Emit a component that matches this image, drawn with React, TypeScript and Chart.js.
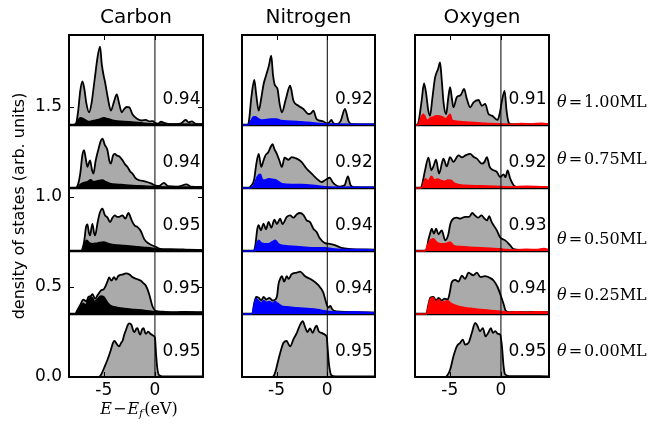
import React, { useEffect, useRef } from 'react';
import { Chart, registerables } from 'chart.js';
Chart.register(...registerables);

type Pt = [number, number];

// ---------- axes / labels ----------
const X_MIN = -8.4;
const X_MAX = 4.7;
const Y_MAX = 1.9;
const offsets = [0, 0.35, 0.7, 1.05, 1.4];
const xTickValues = [-5, 0];
const yTickValues = [0, 0.5, 1.0, 1.5];
const columnTitles = ['Carbon', 'Nitrogen', 'Oxygen'];
const coverageLabels = ['0.00', '0.25', '0.50', '0.75', '1.00'];
const thetaLabelY = [0.139, 0.45, 0.761, 1.206, 1.522];
const carbonNumbers = ['0.95', '0.95', '0.95', '0.94', '0.94'];
const nitrogenNumbers = ['0.95', '0.94', '0.94', '0.92', '0.92'];
const oxygenNumbers = ['0.95', '0.94', '0.93', '0.92', '0.91'];

// ---------- Carbon ----------
const cTot000: Pt[] = [[-8.4,0],[-5.5,0],[-5.36,0.005],[-5.2,0.02],[-4.97,0.05],[-4.64,0.096],[-4.31,0.15],[-4.1,0.19],[-3.95,0.2],[-3.75,0.185],[-3.5,0.17],[-3.3,0.19],[-3.17,0.2],[-3.0,0.235],[-2.84,0.26],[-2.65,0.29],[-2.52,0.298],[-2.3,0.29],[-2.1,0.255],[-2.0,0.25],[-1.8,0.27],[-1.7,0.272],[-1.55,0.245],[-1.44,0.235],[-1.25,0.265],[-1.11,0.272],[-0.95,0.245],[-0.88,0.24],[-0.65,0.252],[-0.45,0.24],[-0.3,0.235],[-0.1,0.228],[0,0.22],[0.12,0.12],[0.23,0.05],[0.4,0.01],[0.7,0.004],[2,0.004],[4.7,0.003]];
const cTot025: Pt[] = [[-8.4,0],[-7.8,0],[-7.6,0.02],[-7.3,0.05],[-7.0,0.08],[-6.7,0.07],[-6.5,0.095],[-6.27,0.1],[-6.1,0.11],[-5.85,0.085],[-5.6,0.105],[-5.29,0.13],[-4.96,0.14],[-4.64,0.18],[-4.48,0.203],[-4.25,0.185],[-4.0,0.205],[-3.8,0.19],[-3.6,0.21],[-3.4,0.217],[-3.1,0.22],[-2.84,0.226],[-2.48,0.22],[-2.2,0.205],[-1.84,0.196],[-1.37,0.185],[-1.1,0.17],[-0.88,0.157],[-0.56,0.11],[-0.26,0.046],[0,0.02],[0.3,0.015],[1,0.012],[2,0.01],[3,0.012],[4.7,0.01]];
const cTot050: Pt[] = [[-8.4,0],[-7.3,0],[-7.1,0.01],[-6.9,0.06],[-6.75,0.13],[-6.6,0.148],[-6.45,0.1],[-6.34,0.087],[-6.2,0.13],[-6.11,0.15],[-5.95,0.1],[-5.85,0.087],[-5.6,0.16],[-5.4,0.21],[-5.13,0.235],[-4.9,0.2],[-4.64,0.186],[-4.38,0.16],[-4.15,0.185],[-3.92,0.198],[-3.7,0.19],[-3.5,0.19],[-3.17,0.198],[-2.9,0.18],[-2.58,0.211],[-2.4,0.19],[-2.19,0.16],[-1.95,0.14],[-1.7,0.133],[-1.37,0.11],[-1.05,0.066],[-0.56,0.04],[0,0.025],[0.5,0.012],[1.5,0.01],[3,0.008],[4.7,0.005]];
const cTot075: Pt[] = [[-8.4,0],[-7.8,0],[-7.58,0.01],[-7.3,0.08],[-7.1,0.18],[-6.93,0.21],[-6.75,0.16],[-6.6,0.117],[-6.45,0.14],[-6.34,0.154],[-6.15,0.1],[-6.01,0.08],[-5.8,0.15],[-5.5,0.22],[-5.3,0.26],[-5.13,0.274],[-4.9,0.24],[-4.64,0.21],[-4.45,0.15],[-4.31,0.135],[-4.1,0.18],[-3.92,0.19],[-3.7,0.18],[-3.5,0.176],[-3.17,0.154],[-2.9,0.13],[-2.68,0.117],[-2.4,0.09],[-2.19,0.08],[-1.9,0.055],[-1.54,0.043],[-1.2,0.04],[-0.88,0.035],[-0.39,0.026],[0,0.015],[0.4,0.012],[0.88,0.028],[1.3,0.01],[2.2,0.008],[3.1,0.02],[3.5,0.008],[4.7,0.006]];
const cTot100: Pt[] = [[-8.4,0],[-8.0,0],[-7.7,0.01],[-7.5,0.08],[-7.3,0.19],[-7.09,0.242],[-6.9,0.2],[-6.7,0.12],[-6.44,0.07],[-6.2,0.12],[-5.9,0.25],[-5.6,0.38],[-5.36,0.435],[-5.2,0.34],[-5.0,0.27],[-4.9,0.246],[-4.6,0.15],[-4.31,0.08],[-4.0,0.13],[-3.73,0.17],[-3.5,0.12],[-3.24,0.07],[-3.0,0.09],[-2.75,0.1],[-2.5,0.098],[-2.2,0.06],[-1.7,0.033],[-1.3,0.025],[-0.9,0.028],[-0.5,0.02],[-0.2,0.022],[0,0.012],[0.3,0.008],[0.6,0.018],[0.9,0.012],[1.5,0.005],[2.5,0.008],[3.0,0.028],[3.3,0.015],[3.6,0.02],[4.0,0.006],[4.7,0.004]];
const cPar025: Pt[] = [[-8.4,0],[-7.7,0],[-7.5,0.02],[-7.2,0.045],[-7.0,0.06],[-6.8,0.05],[-6.5,0.08],[-6.2,0.095],[-5.9,0.07],[-5.6,0.085],[-5.3,0.1],[-5.0,0.095],[-4.7,0.07],[-4.4,0.05],[-4.0,0.04],[-3.5,0.035],[-3.0,0.03],[-2.0,0.025],[-1.0,0.02],[0,0.012],[1,0.008],[2,0.008],[3,0.01],[4.7,0.008]];
const cPar050: Pt[] = [[-8.4,0],[-7.1,0],[-6.9,0.04],[-6.66,0.06],[-6.4,0.045],[-6.1,0.04],[-5.6,0.045],[-5.0,0.05],[-4.5,0.04],[-4.0,0.035],[-3.0,0.03],[-2.0,0.025],[-1.0,0.02],[-0.5,0.018],[0,0.012],[1,0.006],[2.5,0.005],[4.7,0.004]];
const cPar075: Pt[] = [[-8.4,0],[-7.6,0],[-7.3,0.02],[-7.0,0.03],[-6.6,0.035],[-6.28,0.046],[-6.0,0.035],[-5.6,0.04],[-5.13,0.044],[-4.8,0.035],[-4.4,0.025],[-3.5,0.02],[-2.5,0.015],[-1.5,0.012],[0,0.008],[1,0.005],[4.7,0.004]];
const cPar100: Pt[] = [[-8.4,0],[-7.8,0],[-7.6,0.02],[-7.3,0.04],[-7.0,0.035],[-6.5,0.02],[-6.0,0.025],[-5.5,0.03],[-5.0,0.04],[-4.6,0.035],[-4.0,0.025],[-3.0,0.02],[-2.0,0.015],[-1.0,0.01],[0,0.006],[4.7,0.004]];

// ---------- Nitrogen ----------
const nTot000: Pt[] = [[-8.4,0],[-5.5,0],[-5.29,0.005],[-5.1,0.03],[-4.97,0.06],[-4.64,0.133],[-4.31,0.19],[-3.99,0.2],[-3.8,0.18],[-3.66,0.17],[-3.33,0.21],[-3.0,0.245],[-2.68,0.29],[-2.42,0.31],[-2.2,0.28],[-1.95,0.25],[-1.7,0.27],[-1.44,0.245],[-1.2,0.275],[-1.05,0.285],[-0.85,0.255],[-0.56,0.245],[-0.23,0.235],[-0.05,0.22],[0.05,0.15],[0.15,0.08],[0.25,0.04],[0.4,0.01],[0.8,0.004],[4.7,0.003]];
const nTot025: Pt[] = [[-8.4,0],[-7.4,0],[-7.2,0.06],[-7.0,0.095],[-6.76,0.09],[-6.5,0.075],[-6.27,0.095],[-6.0,0.08],[-5.7,0.09],[-5.4,0.075],[-5.13,0.08],[-4.95,0.1],[-4.8,0.167],[-4.6,0.2],[-4.47,0.21],[-4.25,0.18],[-3.99,0.21],[-3.8,0.195],[-3.53,0.22],[-3.0,0.23],[-2.68,0.235],[-2.19,0.21],[-1.54,0.19],[-0.88,0.16],[-0.4,0.12],[-0.07,0.056],[0.1,0.035],[0.3,0.045],[0.5,0.025],[0.9,0.015],[2,0.012],[3,0.01],[4.7,0.008]];
const nTot050: Pt[] = [[-8.4,0],[-7.3,0],[-7.09,0.03],[-6.9,0.12],[-6.76,0.143],[-6.55,0.115],[-6.27,0.152],[-6.05,0.12],[-5.78,0.161],[-5.52,0.13],[-5.2,0.174],[-4.97,0.15],[-4.64,0.18],[-4.42,0.15],[-3.99,0.189],[-3.66,0.198],[-3.33,0.185],[-3.0,0.204],[-2.68,0.211],[-2.35,0.2],[-2.03,0.17],[-1.7,0.16],[-1.37,0.124],[-1.05,0.105],[-0.72,0.069],[-0.23,0.044],[0.25,0.04],[0.74,0.033],[1.4,0.018],[2.1,0.012],[4.7,0.008]];
const nTot075: Pt[] = [[-8.4,0],[-7.7,0],[-7.55,0.01],[-7.22,0.043],[-7.0,0.13],[-6.76,0.19],[-6.5,0.117],[-6.3,0.15],[-6.1,0.18],[-5.8,0.2],[-5.6,0.225],[-5.39,0.243],[-5.2,0.215],[-4.97,0.19],[-4.7,0.15],[-4.47,0.117],[-4.21,0.168],[-3.82,0.157],[-3.5,0.172],[-3.0,0.163],[-2.52,0.144],[-2.03,0.107],[-1.54,0.08],[-1.05,0.052],[-0.56,0.033],[-0.16,0.046],[0.25,0.057],[0.5,0.035],[0.74,0.02],[1.2,0.008],[1.7,0.015],[2.03,0.065],[2.3,0.015],[2.6,0.005],[4.7,0.004]];
const nTot100: Pt[] = [[-8.4,0],[-7.9,0],[-7.75,0.01],[-7.48,0.153],[-7.19,0.25],[-7.0,0.17],[-6.76,0.08],[-6.5,0.15],[-6.27,0.228],[-6.0,0.28],[-5.75,0.33],[-5.52,0.385],[-5.35,0.28],[-5.2,0.228],[-5.0,0.21],[-4.9,0.2],[-4.7,0.12],[-4.47,0.07],[-4.1,0.14],[-3.66,0.218],[-3.33,0.135],[-2.85,0.107],[-2.35,0.089],[-1.86,0.061],[-1.6,0.065],[-1.37,0.08],[-1.05,0.033],[-0.4,0.02],[0,0.008],[0.2,0.015],[0.4,0.028],[0.6,0.01],[0.9,0.005],[1.3,0.02],[1.74,0.089],[2.1,0.02],[2.4,0.005],[4.7,0.004]];
const nPar025: Pt[] = [[-8.4,0],[-7.4,0],[-7.2,0.05],[-7.0,0.085],[-6.8,0.075],[-6.5,0.06],[-6.27,0.075],[-6.0,0.065],[-5.7,0.07],[-5.4,0.06],[-5.13,0.07],[-4.9,0.06],[-4.5,0.045],[-4.0,0.04],[-3.0,0.035],[-2.0,0.03],[-1.0,0.025],[0,0.015],[0.5,0.012],[1.5,0.01],[2.5,0.012],[3.5,0.01],[4.7,0.008]];
const nPar050: Pt[] = [[-8.4,0],[-7.2,0],[-7.0,0.03],[-6.76,0.06],[-6.5,0.045],[-6.2,0.04],[-5.8,0.04],[-5.45,0.05],[-5.13,0.06],[-4.8,0.04],[-4.2,0.03],[-3.0,0.025],[-1.5,0.018],[-0.23,0.018],[0.5,0.012],[1.5,0.008],[3,0.008],[4.7,0.006]];
const nPar075: Pt[] = [[-8.4,0],[-7.5,0],[-7.2,0.02],[-6.92,0.06],[-6.6,0.076],[-6.35,0.045],[-6.1,0.045],[-5.78,0.052],[-5.4,0.048],[-5.1,0.046],[-4.8,0.035],[-4.47,0.024],[-3.5,0.02],[-2.5,0.02],[-1.0,0.012],[0,0.006],[4.7,0.004]];
const nPar100: Pt[] = [[-8.4,0],[-7.8,0],[-7.5,0.025],[-7.3,0.045],[-7.09,0.046],[-6.8,0.035],[-6.5,0.028],[-6.0,0.03],[-5.5,0.033],[-5.0,0.033],[-4.5,0.025],[-4.0,0.022],[-3.0,0.02],[-2.0,0.015],[-1.0,0.01],[0,0.006],[4.7,0.004]];

// ---------- Oxygen ----------
const oTot000: Pt[] = [[-8.4,0],[-5.5,0],[-5.29,0.005],[-4.97,0.04],[-4.64,0.115],[-4.31,0.17],[-3.99,0.19],[-3.72,0.207],[-3.5,0.18],[-3.17,0.19],[-2.85,0.244],[-2.52,0.3],[-2.3,0.285],[-2.05,0.254],[-1.77,0.272],[-1.5,0.226],[-1.25,0.245],[-0.98,0.272],[-0.78,0.245],[-0.55,0.255],[-0.3,0.24],[-0.07,0.235],[0.1,0.17],[0.26,0.06],[0.4,0.015],[0.8,0.005],[4.7,0.004]];
const oTot025: Pt[] = [[-8.4,0],[-7.3,0],[-7.1,0.05],[-6.9,0.09],[-6.6,0.095],[-6.35,0.075],[-6.1,0.09],[-5.8,0.075],[-5.5,0.085],[-5.2,0.08],[-5.0,0.12],[-4.81,0.176],[-4.47,0.19],[-4.15,0.18],[-3.82,0.213],[-3.5,0.195],[-3.17,0.23],[-2.7,0.215],[-2.35,0.23],[-2.0,0.205],[-1.55,0.21],[-1.05,0.2],[-0.7,0.185],[-0.33,0.15],[0.0,0.1],[0.26,0.055],[0.45,0.02],[0.8,0.01],[1.5,0.012],[2.5,0.01],[3.5,0.012],[4.7,0.01]];
const oTot050: Pt[] = [[-8.4,0],[-7.5,0],[-7.26,0.01],[-7.1,0.06],[-6.93,0.096],[-6.76,0.124],[-6.55,0.096],[-6.34,0.124],[-6.1,0.093],[-5.78,0.115],[-5.45,0.059],[-5.15,0.09],[-4.95,0.15],[-4.81,0.17],[-4.31,0.185],[-4.0,0.18],[-3.5,0.19],[-3.1,0.19],[-2.8,0.211],[-2.55,0.198],[-2.25,0.185],[-1.9,0.198],[-1.6,0.18],[-1.35,0.17],[-1.15,0.193],[-0.9,0.16],[-0.4,0.115],[-0.1,0.078],[0.1,0.068],[0.42,0.059],[0.91,0.031],[1.24,0.01],[2,0.006],[4.7,0.005]];
const oTot075: Pt[] = [[-8.4,0],[-7.9,0],[-7.75,0.01],[-7.42,0.098],[-7.09,0.169],[-6.8,0.098],[-6.6,0.12],[-6.34,0.157],[-6.05,0.08],[-5.62,0.163],[-5.3,0.12],[-4.97,0.172],[-4.65,0.145],[-4.15,0.181],[-3.8,0.17],[-3.5,0.18],[-3.01,0.19],[-2.65,0.172],[-2.35,0.163],[-1.86,0.135],[-1.6,0.145],[-1.37,0.172],[-1.1,0.117],[-0.72,0.098],[-0.4,0.09],[-0.07,0.061],[0.26,0.076],[0.45,0.06],[0.65,0.098],[0.91,0.052],[1.24,0.015],[1.6,0.005],[4.7,0.004]];
const oTot100: Pt[] = [[-8.4,0],[-8.2,0],[-8.08,0.01],[-7.75,0.135],[-7.52,0.231],[-7.3,0.17],[-7.1,0.08],[-6.93,0.052],[-6.7,0.15],[-6.45,0.26],[-6.34,0.283],[-6.15,0.31],[-5.95,0.348],[-5.8,0.26],[-5.6,0.12],[-5.36,0.06],[-5.15,0.15],[-4.97,0.21],[-4.8,0.15],[-4.64,0.098],[-4.31,0.155],[-3.95,0.165],[-3.6,0.2],[-3.33,0.144],[-3.0,0.098],[-2.68,0.126],[-2.19,0.139],[-1.86,0.107],[-1.54,0.117],[-1.21,0.061],[-0.88,0.052],[-0.33,0.028],[-0.13,0.061],[0.1,0.135],[0.36,0.19],[0.55,0.08],[0.75,0.015],[1.0,0.003],[4.7,0.003]];
const oPar025: Pt[] = [[-8.4,0],[-7.3,0],[-7.1,0.04],[-6.9,0.085],[-6.6,0.09],[-6.4,0.065],[-6.1,0.08],[-5.8,0.065],[-5.5,0.07],[-5.2,0.074],[-4.9,0.06],[-4.5,0.05],[-4.0,0.04],[-3.0,0.032],[-2.0,0.025],[-1.0,0.02],[0,0.015],[0.8,0.01],[1.5,0.012],[2.5,0.01],[3.5,0.012],[4.7,0.01]];
const oPar050: Pt[] = [[-8.4,0],[-7.4,0],[-7.2,0.03],[-6.93,0.059],[-6.6,0.068],[-6.3,0.05],[-5.8,0.04],[-5.2,0.045],[-4.97,0.05],[-4.6,0.03],[-4.0,0.025],[-2.5,0.02],[-1.0,0.015],[0,0.012],[0.5,0.008],[1.5,0.006],[2.5,0.01],[3.5,0.008],[4.2,0.014],[4.7,0.008]];
const oPar075: Pt[] = [[-8.4,0],[-7.8,0],[-7.6,0.02],[-7.4,0.052],[-7.1,0.04],[-6.8,0.065],[-6.5,0.045],[-6.2,0.05],[-5.9,0.043],[-5.5,0.038],[-5.2,0.045],[-4.9,0.043],[-4.5,0.025],[-3.5,0.015],[-2,0.012],[0,0.008],[1,0.006],[2.5,0.01],[4.7,0.006]];
const oPar100: Pt[] = [[-8.4,0],[-8.1,0],[-7.9,0.03],[-7.6,0.06],[-7.45,0.05],[-7.2,0.025],[-6.9,0.04],[-6.6,0.045],[-6.34,0.052],[-6.0,0.05],[-5.7,0.045],[-5.4,0.035],[-5.15,0.05],[-4.97,0.06],[-4.75,0.025],[-4.0,0.02],[-3.0,0.015],[-1.5,0.01],[0,0.005],[1,0.004],[2,0.008],[3,0.006],[4,0.01],[4.7,0.006]];

interface ColumnSpec {
  title: string;
  totals: Pt[][];
  partials: Pt[][];
  numbers: string[];
  color: string;
  padLeft: number;
  padRight: number;
  isFirst: boolean;
  isLast: boolean;
}

const columns: ColumnSpec[] = [
  { title: columnTitles[0], totals: [cTot000, cTot025, cTot050, cTot075, cTot100], partials: [cPar025, cPar050, cPar075, cPar100], numbers: carbonNumbers, color: '#000000', padLeft: 0, padRight: 445, isFirst: true, isLast: false },
  { title: columnTitles[1], totals: [nTot000, nTot025, nTot050, nTot075, nTot100], partials: [nPar025, nPar050, nPar075, nPar100], numbers: nitrogenNumbers, color: '#0000ff', padLeft: 242, padRight: 273, isFirst: false, isLast: false },
  { title: columnTitles[2], totals: [oTot000, oTot025, oTot050, oTot075, oTot100], partials: [oPar025, oPar050, oPar075, oPar100], numbers: oxygenNumbers, color: '#ff0000', padLeft: 415, padRight: 99, isFirst: false, isLast: true },
];

type Run = { t: string; font: string; dy?: number; gap?: number };
function drawRuns(ctx: CanvasRenderingContext2D, runs: Run[], x: number, y: number, center: boolean) {
  let total = 0;
  runs.forEach((r) => { ctx.font = r.font; total += ctx.measureText(r.t).width + (r.gap || 0); });
  let cx = center ? x - total / 2 : x;
  runs.forEach((r) => {
    ctx.font = r.font;
    ctx.fillText(r.t, cx, y + (r.dy || 0));
    cx += ctx.measureText(r.t).width + (r.gap || 0);
  });
}

function buildConfig(col: ColumnSpec): any {
  const datasets: any[] = [];
  col.totals.forEach((pts, i) => {
    datasets.push({
      data: pts.map(([x, y]) => ({ x, y: offsets[i] + y })),
      borderColor: '#000000', borderWidth: 1.8, backgroundColor: '#aaaaaa',
      fill: { value: offsets[i] }, pointRadius: 0, cubicInterpolationMode: 'monotone', order: 4,
    });
  });
  offsets.slice(1).forEach((o) => {
    datasets.push({
      data: [{ x: X_MIN, y: o }, { x: X_MAX, y: o }],
      borderColor: '#000000', borderWidth: 2.5, pointRadius: 0, fill: false, order: 3,
    });
  });
  col.partials.forEach((pts, j) => {
    const i = j + 1;
    datasets.push({
      data: pts.map(([x, y]) => ({ x, y: offsets[i] + y })),
      borderColor: col.color, borderWidth: 1.5, backgroundColor: col.color,
      fill: { value: offsets[i] }, pointRadius: 0, cubicInterpolationMode: 'monotone', order: 2,
    });
  });
  datasets.push({
    data: [{ x: 0, y: 0 }, { x: 0, y: Y_MAX }],
    borderColor: '#000000', borderWidth: 1, pointRadius: 0, fill: false, order: 1,
  });

  const decor = {
    id: 'decor',
    afterDatasetsDraw(chart: any) {
      const { ctx, chartArea: a, scales } = chart;
      const xs = scales.x, ys = scales.y;
      ctx.save();
      ctx.fillStyle = '#000';
      ctx.textBaseline = 'middle';
      ctx.textAlign = 'left';
      ctx.font = '17px "DejaVu Sans"';
      col.numbers.forEach((t, i) => {
        ctx.fillText(t, xs.getPixelForValue(0.75), ys.getPixelForValue(offsets[i] + 0.14));
      });
      ctx.strokeStyle = '#000';
      ctx.lineWidth = 2;
      ctx.strokeRect(a.left, a.top, a.right - a.left, a.bottom - a.top);
      ctx.lineWidth = 1;
      ctx.beginPath();
      xTickValues.forEach((v) => {
        const px = Math.round(xs.getPixelForValue(v)) + 0.5;
        ctx.moveTo(px, a.bottom); ctx.lineTo(px, a.bottom - 5);
        ctx.moveTo(px, a.top); ctx.lineTo(px, a.top + 5);
      });
      if (col.isFirst) {
        yTickValues.forEach((v) => {
          const py = Math.round(ys.getPixelForValue(v)) + 0.5;
          ctx.moveTo(a.left, py); ctx.lineTo(a.left + 5, py);
          ctx.moveTo(a.right, py); ctx.lineTo(a.right - 5, py);
        });
      }
      ctx.stroke();
      if (col.isFirst) {
        const it = 'italic 16px "DejaVu Serif"';
        const rm = '16px "DejaVu Serif"';
        drawRuns(ctx, [
          { t: 'E', font: it, gap: 1 },
          { t: '\u2212', font: rm, gap: 1 },
          { t: 'E', font: it },
          { t: 'f', font: 'italic 11px "DejaVu Serif"', dy: 4, gap: 1 },
          { t: '(eV)', font: rm },
        ], (a.left + a.right) / 2 + 3, 410, true);
      }
      if (col.isLast) {
        coverageLabels.forEach((c, i) => {
          drawRuns(ctx, [
            { t: '\u03b8', font: 'italic 16px "DejaVu Serif"', gap: 2 },
            { t: '=', font: '16px "DejaVu Serif"', gap: 2 },
            { t: c + 'ML', font: '16px "DejaVu Serif"' },
          ], a.right + 8, ys.getPixelForValue(thetaLabelY[i]), false);
        });
      }
      ctx.restore();
    },
  };

  return {
    type: 'line',
    data: { datasets },
    plugins: [decor],
    options: {
      animation: false,
      responsive: false,
      events: [],
      layout: { padding: { left: col.padLeft, right: col.padRight, top: 0, bottom: 0 } },
      plugins: {
        legend: { display: false },
        tooltip: { enabled: false },
        title: {
          display: true, text: col.title, fullSize: false, color: '#000',
          font: { family: 'DejaVu Sans', size: 20, weight: 'normal' },
          padding: { top: 6, bottom: 5 },
        },
      },
      scales: {
        x: {
          type: 'linear', min: X_MIN, max: X_MAX,
          grid: { display: false, drawTicks: false },
          border: { display: false },
          afterBuildTicks: (s: any) => { s.ticks = xTickValues.map((v) => ({ value: v })); },
          afterFit: (s: any) => { s.height = 52; },
          ticks: { color: '#000', font: { family: 'DejaVu Sans', size: 17 }, padding: 3, maxRotation: 0, callback: (v: any) => String(v) },
        },
        y: {
          type: 'linear', min: 0, max: Y_MAX,
          display: col.isFirst,
          grid: { display: false, drawTicks: false },
          border: { display: false },
          afterBuildTicks: (s: any) => { s.ticks = yTickValues.map((v) => ({ value: v })); },
          afterFit: (s: any) => { s.width = col.isFirst ? 69 : 0; },
          ticks: { color: '#000', font: { family: 'DejaVu Sans', size: 17 }, padding: 7, callback: (v: any) => Number(v).toFixed(1) },
          title: {
            display: true, text: 'density of states (arb. units)', color: '#000',
            font: { family: 'DejaVu Sans', size: 16 }, padding: { top: 10, bottom: 0 },
          },
        },
      },
    },
  };
}

export default function App() {
  const r0 = useRef<HTMLCanvasElement>(null);
  const r1 = useRef<HTMLCanvasElement>(null);
  const r2 = useRef<HTMLCanvasElement>(null);
  useEffect(() => {
    const refs = [r0, r1, r2];
    const charts = columns.map((c, i) => new Chart(refs[i].current as HTMLCanvasElement, buildConfig(c)));
    return () => charts.forEach((ch) => ch.destroy());
  }, []);
  const st: React.CSSProperties = { position: 'absolute', left: 0, top: 0 };
  return (
    <div style={{ position: 'fixed', left: 0, top: 0, width: 648, height: 429, background: '#fff' }}>
      <canvas ref={r0} width={648} height={429} style={st} />
      <canvas ref={r1} width={648} height={429} style={st} />
      <canvas ref={r2} width={648} height={429} style={st} />
    </div>
  );
}
